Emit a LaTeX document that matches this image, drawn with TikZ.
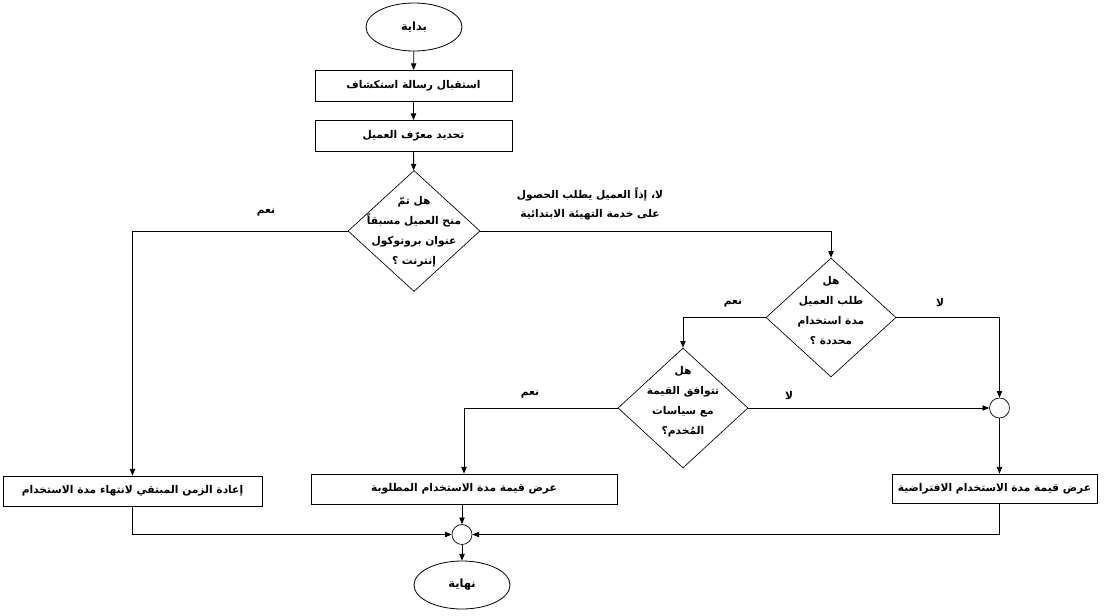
\documentclass[tikz,border=0pt]{standalone}
\usepackage{fontspec}
\TeXXeTstate=1
\newfontfamily\arabicfont[Script=Arabic]{DejaVu Sans}
\usetikzlibrary{arrows.meta,shapes.geometric}
\newcommand{\ar}[1]{{\arabicfont\bfseries\beginR #1\endR}}
\tikzset{
  box/.style={draw, line width=0.6pt, rectangle, inner sep=0pt, font=\fontsize{8}{10}\selectfont},
  term/.style={draw, line width=0.6pt, ellipse, inner sep=0pt, minimum width=72pt, minimum height=36pt, font=\fontsize{8.5}{10}\selectfont},
  dia/.style={draw, line width=0.5pt, diamond, inner sep=0pt},
  dtext/.style={align=center, font=\fontsize{8}{15}\selectfont, inner sep=0pt},
  lbl/.style={align=center, font=\fontsize{8}{14}\selectfont, inner sep=0pt},
  junc/.style={draw, line width=0.5pt, circle, minimum size=15pt, inner sep=0pt},
  arr/.style={line width=0.6pt, -{Triangle[length=5pt,width=4pt]}},
  ln/.style={line width=0.6pt}
}
\begin{document}
\begin{tikzpicture}[x=0.75pt,y=-0.75pt]
\useasboundingbox (0,0) rectangle (1108,615);
% terminals
\node[term] (s) at (414,27) {\ar{بداية}};
\node[term] (e) at (462,585) {\ar{نهاية}};
% boxes
\node[box, minimum width=197*0.75pt, minimum height=31*0.75pt] (b1) at (413.5,86) {\ar{استقبال رسالة استكشاف}};
\node[box, minimum width=197*0.75pt, minimum height=31*0.75pt] (b2) at (413.5,136) {\ar{تحديد معرّف العميل}};
\node[box, minimum width=259*0.75pt, minimum height=30*0.75pt] (b3) at (132.5,491) {\ar{إعادة الزمن المبتقي لانتهاء مدة الاستخدام}};
\node[box, minimum width=306*0.75pt, minimum height=30*0.75pt] (b4) at (464,489) {\ar{عرض قيمة مدة الاستخدام المطلوبة}};
\node[box, minimum width=205*0.75pt, minimum height=29*0.75pt] (b5) at (994.5,488.5) {\ar{عرض قيمة مدة الاستخدام الافتراضية}};
% diamonds
\node[dia, minimum width=132*0.75pt, minimum height=121*0.75pt] (d1) at (414,231) {};
\node[dtext] (d1t) at (414,232) {\ar{هل تمّ}\\\ar{منح العميل مسبقاً}\\\ar{عنوان بروتوكول}\\\ar{إنترنت ؟}};
\node[dia, minimum width=130*0.75pt, minimum height=119*0.75pt] (d2) at (831,317.5) {};
\node[dtext] (d2t) at (831,311) {\ar{هل}\\\ar{طلب العميل}\\\ar{مدة استخدام}\\\ar{محددة ؟}};
\node[dia, minimum width=130*0.75pt, minimum height=120*0.75pt] (d3) at (683,408) {};
\node[dtext] (d3t) at (683,402) {\ar{هل}\\\ar{تتوافق القيمة}\\\ar{مع سياسات}\\\ar{المُخدم؟}};
% junctions
\node[junc] (c1) at (999.5,408) {};
\node[junc] (c2) at (462,534.5) {};
% labels
\node[lbl] (l1) at (266,212) {\ar{نعم}};
\node[lbl] (l2) at (590,204) {\ar{لا، إذاً العميل يطلب الحصول}\\\ar{على خدمة التهيئة الابتدائية}};
\node[lbl] (l3) at (733,303) {\ar{نعم}};
\node[lbl] (l4) at (940,303) {\ar{لا}};
\node[lbl] (l5) at (789,396) {\ar{لا}};
\node[lbl] (l6) at (530,394) {\ar{نعم}};
% connectors
\draw[arr] (s) -- (b1);
\draw[arr] (b1) -- (b2);
\draw[arr] (b2) -- (d1);
\draw[arr] (d1.west) -| (b3.north);
\draw[arr] (d1.east) -| (d2.north);
\draw[arr] (d2.east) -| (c1.north);
\draw[arr] (d2.west) -| (d3.north);
\draw[arr] (d3.east) -- (c1.west);
\draw[arr] (d3.west) -| (b4.north);
\draw[arr] (c1.south) -- (c1.south |- b5.north);
\draw[arr] (c1 |- b5.south) |- (c2.east);
\draw[arr] (b3.south) |- (c2.west);
\draw[arr] (c2 |- b4.south) -- (c2.north);
\draw[arr] (c2.south) -- (e.north);
\end{tikzpicture}
\end{document}
